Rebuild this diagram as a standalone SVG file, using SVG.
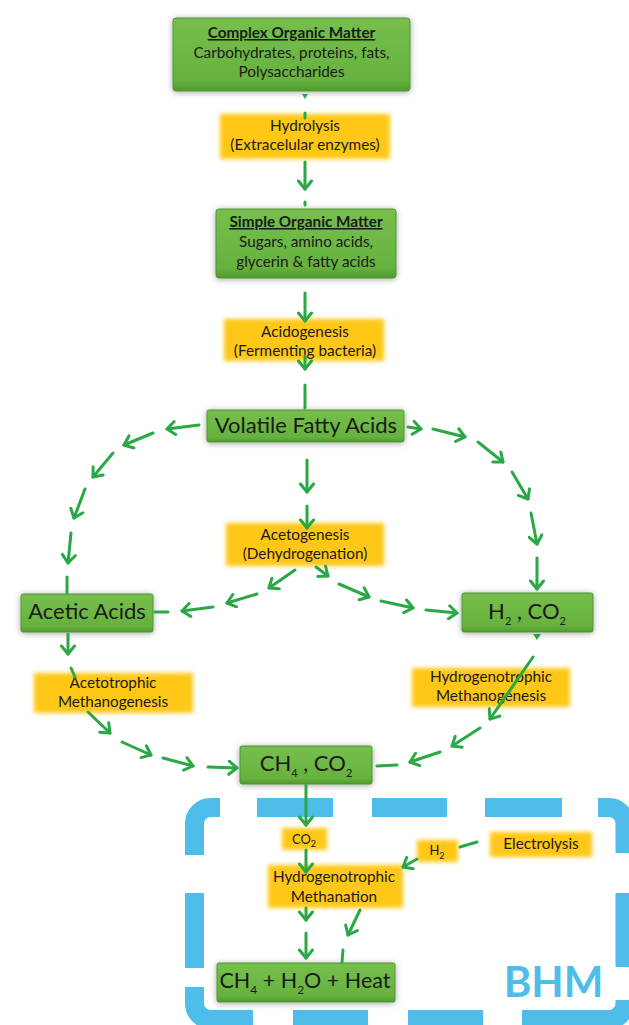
<svg xmlns="http://www.w3.org/2000/svg" width="629" height="1025" viewBox="0 0 629 1025">
<defs>
  <linearGradient id="gg" x1="0" y1="0" x2="0" y2="1">
    <stop offset="0" stop-color="#76bf4c"/>
    <stop offset="0.85" stop-color="#67b23f"/>
    <stop offset="1" stop-color="#4f9a2e"/>
  </linearGradient>
  <filter id="shadow" x="-20%" y="-30%" width="140%" height="160%">
    <feDropShadow dx="0" dy="1" stdDeviation="3" flood-color="#000" flood-opacity="0.35"/>
  </filter>
  <filter id="soft" x="-20%" y="-40%" width="140%" height="180%">
    <feGaussianBlur stdDeviation="2"/>
  </filter>
  <marker id="ah" viewBox="-10 -8 12 16" markerWidth="12" markerHeight="16" refX="0" refY="0" orient="auto" markerUnits="userSpaceOnUse">
    <path d="M-8,-6.5 L0,0 L-8,6.5" fill="none" stroke="#2aa845" stroke-width="3" stroke-linecap="round" stroke-linejoin="round"/>
  </marker>
  <style>
    .gbox { fill: url(#gg); stroke: #4e9430; stroke-width: 1; filter: url(#shadow); }
    .ybox { fill: #ffc714; filter: url(#soft); }
    .t { font-family: Lato, "Open Sans", sans-serif; fill: #1a1a1a; text-anchor: middle; }
    .s { font-size: 15.3px; }
    .big { font-size: 22px; }
    .c { fill: none; stroke: #2aa845; stroke-width: 3; stroke-linecap: round; }
    .a { marker-end: url(#ah); }
    .sub { font-size: 11px; }
    .dash { fill: none; stroke: #4fbde9; stroke-width: 19; stroke-linecap: butt; }
  </style>
</defs>

<g id="bhm">
  <path class="dash" d="M194.5,855 L194.5,823.5 A16,16 0 0 1 210.5,807.5 L220,807.5"/>
  <path class="dash" d="M257,807.5 L333,807.5 M372,807.5 L447,807.5 M485,807.5 L562,807.5"/>
  <path class="dash" d="M598,807.5 L609,807.5 A16,16 0 0 1 625,823.5 L625,853"/>
  <path class="dash" d="M625,893 L625,967"/>
  <path class="dash" d="M625,1000 L625,1003.5 A16,16 0 0 1 609,1019.5 L522,1019.5"/>
  <path class="dash" d="M483,1019.5 L408,1019.5 M368,1019.5 L293,1019.5"/>
  <path class="dash" d="M253,1019.5 L210.5,1019.5 A16,16 0 0 1 194.5,1003.5 L194.5,987"/>
  <path class="dash" d="M194.5,968 L194.5,893"/>
  <text x="553.5" y="997" font-family="Lato, 'Liberation Sans', sans-serif" font-weight="bold" font-size="42" fill="#4fbde9" text-anchor="middle">BHM</text>
</g>

<g id="complex">
  <rect class="gbox" x="173" y="18" width="237" height="73" rx="3"/>
  <text class="t s" x="291.5" y="38" font-weight="bold" text-decoration="underline">Complex Organic Matter</text>
  <text class="t s" x="291.5" y="58">Carbohydrates, proteins, fats,</text>
  <text class="t s" x="291.5" y="77">Polysaccharides</text>
</g>

<g id="hydrolysis">
  <rect class="ybox" x="220" y="114" width="170" height="45"/>
  <text class="t s" x="305" y="131">Hydrolysis</text>
  <text class="t s" x="305" y="150">(Extracelular enzymes)</text>
</g>

<g id="simple">
  <rect class="gbox" x="216" y="209" width="180" height="69" rx="3"/>
  <text class="t s" x="306" y="227" font-weight="bold" text-decoration="underline">Simple Organic Matter</text>
  <text class="t s" x="306" y="247">Sugars, amino acids,</text>
  <text class="t s" x="306" y="267">glycerin &amp; fatty acids</text>
</g>

<g id="acidogenesis">
  <rect class="ybox" x="224" y="319" width="160" height="42"/>
  <text class="t s" x="305" y="337">Acidogenesis</text>
  <text class="t s" x="305" y="356">(Fermenting bacteria)</text>
</g>

<g id="vfa">
  <rect class="gbox" x="207" y="410" width="197" height="32" rx="2"/>
  <text class="t big" x="306" y="433">Volatile Fatty Acids</text>
</g>

<g id="acetogenesis">
  <rect class="ybox" x="226" y="523" width="158" height="43"/>
  <text class="t s" x="305" y="540">Acetogenesis</text>
  <text class="t s" x="305" y="559">(Dehydrogenation)</text>
</g>

<g id="acetic">
  <rect class="gbox" x="21" y="594" width="132" height="38" rx="2"/>
  <text class="t big" x="87" y="619">Acetic Acids</text>
</g>

<g id="h2co2">
  <rect class="gbox" x="462" y="593" width="131" height="39" rx="2"/>
  <text class="t big" x="527" y="619">H<tspan class="sub" dy="6">2</tspan><tspan dy="-6"> , CO</tspan><tspan class="sub" dy="6">2</tspan></text>
</g>

<g id="acetotrophic">
  <rect class="ybox" x="34" y="673" width="159" height="40"/>
  <text class="t s" x="113" y="688">Acetotrophic</text>
  <text class="t s" x="113" y="707">Methanogenesis</text>
</g>

<g id="hydrogenotrophic-m">
  <rect class="ybox" x="412" y="668" width="158" height="39"/>
  <text class="t s" x="491" y="682">Hydrogenotrophic</text>
  <text class="t s" x="491" y="701">Methanogenesis</text>
</g>

<g id="ch4co2">
  <rect class="gbox" x="240" y="746" width="132" height="38" rx="2"/>
  <text class="t big" x="306" y="771">CH<tspan class="sub" dy="6">4</tspan><tspan dy="-6"> , CO</tspan><tspan class="sub" dy="6">2</tspan></text>
</g>

<g id="co2">
  <rect class="ybox" x="282" y="828" width="45" height="22"/>
  <text class="t" x="304" y="844" font-size="13">CO<tspan font-size="9" dy="3">2</tspan></text>
</g>

<g id="h2">
  <rect class="ybox" x="417" y="840" width="41" height="22"/>
  <text class="t" x="437" y="855" font-size="13">H<tspan font-size="9" dy="4">2</tspan></text>
</g>

<g id="electrolysis">
  <rect class="ybox" x="490" y="832" width="102" height="25"/>
  <text class="t s" x="541" y="849">Electrolysis</text>
</g>

<g id="methanation">
  <rect class="ybox" x="268" y="865" width="135" height="43"/>
  <text class="t s" x="334" y="882">Hydrogenotrophic</text>
  <text class="t s" x="334" y="902">Methanation</text>
</g>

<g id="final">
  <rect class="gbox" x="217" y="963" width="178" height="39" rx="2"/>
  <text class="t" x="305" y="988" font-size="21.5">CH<tspan font-size="12" dy="6">4</tspan><tspan dy="-6"> + H</tspan><tspan font-size="12" dy="6">2</tspan><tspan dy="-6">O + Heat</tspan></text>
</g>

<g id="connectors">
  <path d="M302,94 L308,94 L305,99 Z" fill="#2aa845"/>
  <line class="c" x1="305" y1="113" x2="305" y2="118"/>
  <line class="c a" x1="305" y1="162" x2="305" y2="189"/>
  <line class="c" x1="305" y1="202" x2="305" y2="205"/>
  <line class="c a" x1="305" y1="293" x2="305" y2="321"/>
  <line class="c a" x1="305" y1="356" x2="305" y2="369"/>
  <line class="c" x1="305" y1="385" x2="305" y2="408"/>

  <line class="c a" x1="199" y1="425" x2="167" y2="429"/>
  <line class="c a" x1="153" y1="433" x2="124" y2="445"/>
  <line class="c a" x1="113" y1="453" x2="93" y2="477"/>
  <line class="c a" x1="85" y1="489" x2="74" y2="518"/>
  <line class="c a" x1="71" y1="533" x2="68" y2="563"/>
  <line class="c" x1="67" y1="577" x2="67" y2="593"/>

  <line class="c a" x1="408" y1="427" x2="421" y2="429"/>
  <line class="c a" x1="433" y1="429" x2="465" y2="437"/>
  <line class="c a" x1="478" y1="442" x2="503" y2="462"/>
  <line class="c a" x1="512" y1="472" x2="528" y2="499"/>
  <line class="c a" x1="531" y1="513" x2="537" y2="544"/>
  <line class="c a" x1="537" y1="558" x2="537" y2="589"/>

  <line class="c a" x1="307" y1="460" x2="307" y2="492"/>
  <line class="c a" x1="307" y1="506" x2="307" y2="528"/>

  <line class="c a" x1="295" y1="570" x2="269" y2="588"/>
  <line class="c a" x1="257" y1="594" x2="227" y2="603"/>
  <line class="c a" x1="213" y1="607" x2="182" y2="611"/>
  <line class="c" x1="168" y1="612" x2="155" y2="612"/>

  <line class="c a" x1="316" y1="567" x2="328" y2="576"/>
  <line class="c a" x1="339" y1="584" x2="369" y2="597"/>
  <line class="c a" x1="381" y1="601" x2="413" y2="608"/>
  <line class="c a" x1="426" y1="610" x2="457" y2="613"/>

  <line class="c a" x1="68" y1="634" x2="68" y2="654"/>
  <line class="c" x1="71" y1="668" x2="75" y2="677"/>
  <line class="c a" x1="88" y1="712" x2="110" y2="733"/>
  <line class="c a" x1="122" y1="742" x2="151" y2="755"/>
  <line class="c a" x1="163" y1="758" x2="193" y2="766"/>
  <line class="c a" x1="208" y1="767" x2="237" y2="768"/>

  <path d="M533,634 L541,634 L537,640 Z" fill="#2aa845"/>
  <line class="c a" x1="533" y1="657" x2="490" y2="719"/>
  <line class="c a" x1="480" y1="728" x2="452" y2="746"/>
  <line class="c a" x1="440" y1="752" x2="410" y2="762"/>
  <line class="c" x1="397" y1="765" x2="377" y2="766"/>

  <line class="c a" x1="306" y1="785" x2="306" y2="825"/>
  <line class="c a" x1="306" y1="850" x2="306" y2="872"/>
  <line class="c a" x1="306" y1="908" x2="306" y2="920"/>
  <line class="c a" x1="306" y1="933" x2="306" y2="958"/>
  <line class="c a" x1="360" y1="910" x2="348" y2="935"/>
  <line class="c" x1="343" y1="950" x2="342" y2="962"/>
  <line class="c" x1="477" y1="842" x2="460" y2="847"/>
  <line class="c a" x1="417" y1="859" x2="403" y2="867"/>
</g>
</svg>
